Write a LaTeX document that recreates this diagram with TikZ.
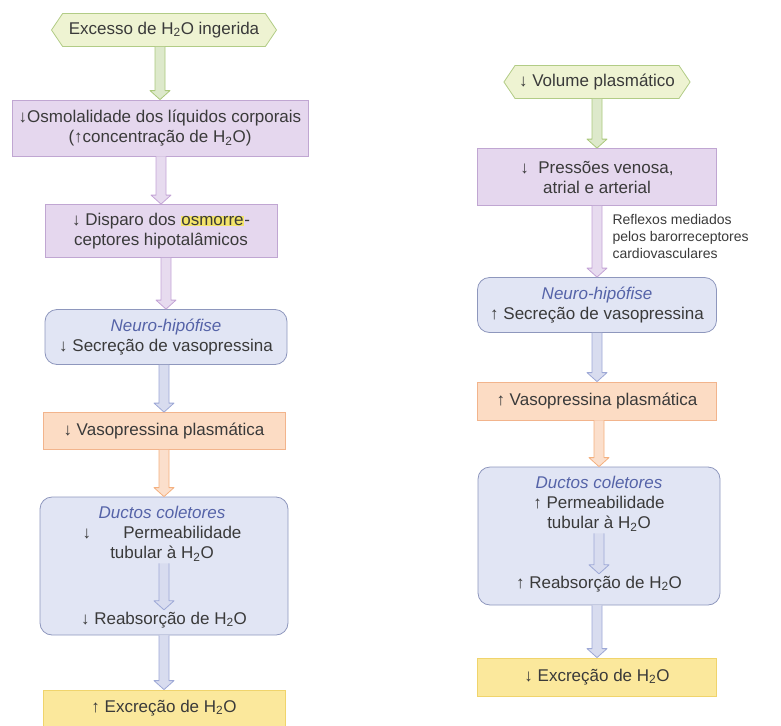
\documentclass[tikz,border=0pt]{standalone}
\usepackage{fontspec}
\setmainfont{Liberation Sans}
\usepackage{xcolor}
\usepackage{tikz}
\usetikzlibrary{calc,shapes.symbols}

\definecolor{hexfill}{HTML}{EEF3D2}
\definecolor{hexline}{HTML}{B2CC86}
\definecolor{purfill}{HTML}{E5D7EE}
\definecolor{purline}{HTML}{C0A6D2}
\definecolor{blufill}{HTML}{E1E5F4}
\definecolor{bluline}{HTML}{8E97BD}
\definecolor{orafill}{HTML}{FCDCC4}
\definecolor{oraline}{HTML}{F2B48C}
\definecolor{yelfill}{HTML}{FBE89C}
\definecolor{yelline}{HTML}{F0D46C}
\definecolor{txtgray}{HTML}{3A3A3A}
\definecolor{italblue}{HTML}{5563A8}
\definecolor{hlyellow}{HTML}{F3E46A}
\definecolor{grnarrow}{HTML}{ABC87C}
\definecolor{purarrow}{HTML}{C4A4D6}
\definecolor{bluarrow}{HTML}{9DA8D6}
\definecolor{oraarrow}{HTML}{F4B07F}

\newcommand{\hlword}[1]{{\setlength{\fboxsep}{0.6pt}\colorbox{hlyellow}{#1}}}
\newcommand{\organ}[1]{{\color{italblue}\itshape #1}}
% hollow block arrow: colour, from node, to node
\newcommand{\hollowarrow}[3]{%
  \path[draw=#1, fill=#1!40!white, line width=0.8pt, line join=round]
    let \p1=(#2.south), \p2=(#3.north) in
    (\x2-5pt,\y1) -- (\x2-5pt,\y2+9pt) -- (\x2-10pt,\y2+9pt) -- (\x2,\y2)
    -- (\x2+10pt,\y2+9pt) -- (\x2+5pt,\y2+9pt) -- (\x2+5pt,\y1);
}

\begin{document}
\begin{tikzpicture}[
  x=1pt, y=-1pt,
  every node/.style={text=txtgray, font=\fontsize{17}{20}\selectfont, align=center},
  hexa/.style={signal, signal to=west and east, signal pointer angle=112, draw=hexline, fill=hexfill, line width=0.8pt, minimum height=33, inner xsep=4pt},
  purbox/.style={rectangle, draw=purline, fill=purfill, line width=0.8pt},
  blubox/.style={rectangle, rounded corners=12pt, draw=bluline, fill=blufill, line width=0.8pt},
  orabox/.style={rectangle, draw=oraline, fill=orafill, line width=0.8pt},
  yelbox/.style={rectangle, draw=yelline, fill=yelfill, line width=0.8pt},
  plain/.style={inner sep=2pt},
  reflex/.style={font=\fontsize{14}{17}\selectfont, align=left, anchor=north west}
]
  \useasboundingbox (0,0) rectangle (781,725);

  % Left column
  \node[hexa, minimum width=225] (exc) at (164,30) {Excesso de H\textsubscript{2}O ingerida};
  \node[purbox, minimum width=296, minimum height=56] (osmL) at (160,128)
    {↓Osmolalidade dos líquidos corporais\\(↑concentração de H\textsubscript{2}O)};
  \node[purbox, minimum width=232, minimum height=53] (dispL) at (161,231)
    {↓ Disparo dos \hlword{osmorre}-\\ceptores hipotalâmicos};
  \node[blubox, minimum width=242, minimum height=55] (neuroL) at (166,337)
    {\organ{Neuro-hipófise}\\↓ Secreção de vasopressina};
  \node[orabox, minimum width=242, minimum height=37] (vasoL) at (164,431) {↓ Vasopressina plasmática};
  \node[blubox, minimum width=248, minimum height=138] (ductL) at (164,566) {};
  \node[plain, anchor=north] (permL) at (162,504)
    {\organ{Ductos coletores}\\↓\hspace{1.9em}Permeabilidade\\tubular à H\textsubscript{2}O};
  \node[plain] (reabL) at (164,620) {↓ Reabsorção de H\textsubscript{2}O};
  \node[yelbox, minimum width=242, minimum height=36] (excrL) at (164,708) {↑ Excreção de H\textsubscript{2}O};

  % Right column
  \node[hexa, minimum width=181] (vol) at (597,82) {↓ Volume plasmático};
  \node[purbox, minimum width=239, minimum height=57] (pressR) at (597,177)
    {↓ \ Pressões venosa,\\atrial e arterial};
  \node[blubox, minimum width=239, minimum height=55] (neuroR) at (597,305)
    {\organ{Neuro-hipófise}\\↑ Secreção de vasopressina};
  \node[orabox, minimum width=239, minimum height=38] (vasoR) at (597,401) {↑ Vasopressina plasmática};
  \node[blubox, minimum width=242, minimum height=138] (ductR) at (599,536) {};
  \node[plain, anchor=north] (permR) at (599,474)
    {\organ{Ductos coletores}\\↑ Permeabilidade\\tubular à H\textsubscript{2}O};
  \node[plain] (reabR) at (599,584) {↑ Reabsorção de H\textsubscript{2}O};
  \node[yelbox, minimum width=239, minimum height=38] (excrR) at (597,677) {↓ Excreção de H\textsubscript{2}O};

  \node[reflex] (barolab) at (609,211) {Reflexos mediados\\pelos barorreceptores\\cardiovasculares};

  % Block arrows
  \hollowarrow{grnarrow}{exc}{osmL}
  \hollowarrow{purarrow}{osmL}{dispL}
  \hollowarrow{purarrow}{dispL}{neuroL}
  \hollowarrow{bluarrow}{neuroL}{vasoL}
  \hollowarrow{oraarrow}{vasoL}{ductL}
  \hollowarrow{bluarrow}{ductL}{excrL}
  \hollowarrow{bluarrow}{permL}{reabL}
  \hollowarrow{grnarrow}{vol}{pressR}
  \hollowarrow{purarrow}{pressR}{neuroR}
  \hollowarrow{bluarrow}{neuroR}{vasoR}
  \hollowarrow{oraarrow}{vasoR}{ductR}
  \hollowarrow{bluarrow}{ductR}{excrR}
  \hollowarrow{bluarrow}{permR}{reabR}
\end{tikzpicture}
\end{document}
